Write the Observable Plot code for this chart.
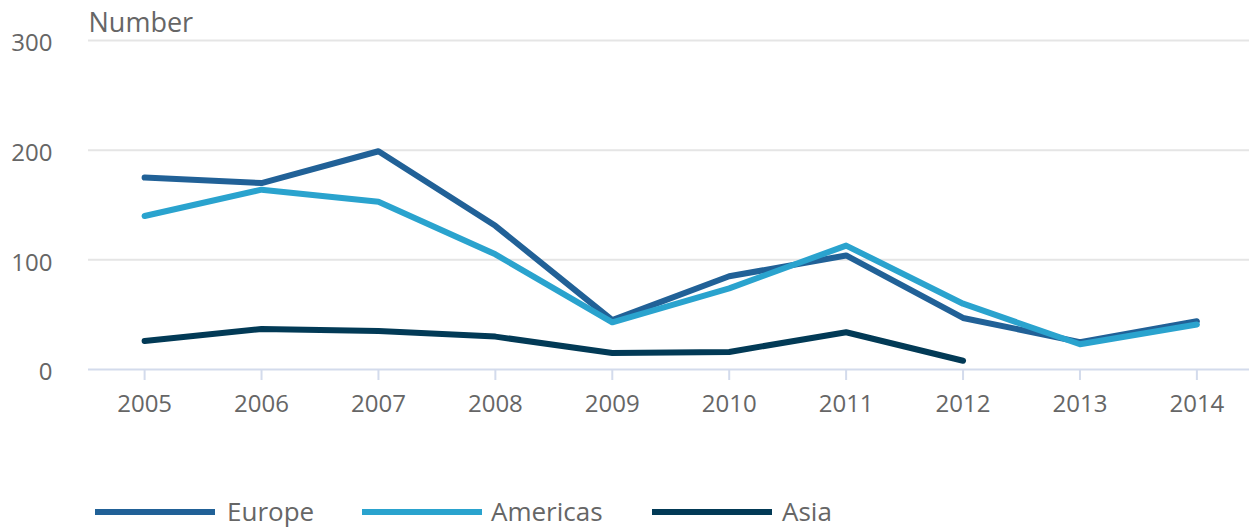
<!DOCTYPE html>
<html>
<head>
<meta charset="utf-8">
<script src="https://cdn.jsdelivr.net/npm/d3@7"></script>
<script src="https://cdn.jsdelivr.net/npm/@observablehq/plot@0.6"></script>
<style>
  html, body { margin: 0; padding: 0; background: #fff; overflow: hidden; }
  #wrap { position: relative; width: 1249px; height: 527px; font-family: "Open Sans", sans-serif; overflow: hidden; }
  #chart { position: absolute; left: 0; top: 0; }
  .sw { position: absolute; top: 509px; width: 120px; height: 6px; }
  .lbl { position: absolute; top: 498px; font-size: 26px; line-height: 26px; color: #666; white-space: nowrap; }
</style>
</head>
<body>
<div id="wrap">
  <div id="chart"></div>
</div>
<script>
const years = [2005, 2006, 2007, 2008, 2009, 2010, 2011, 2012, 2013, 2014];
const europe = [175, 170, 199, 131, 45, 85, 104, 47, 25, 44];
const americas = [140, 164, 153, 105, 43, 74, 113, 60, 23, 41];
const asia = [26, 37, 35, 30, 15, 16, 34, 8];
const seriesNames = ["Europe", "Americas", "Asia"];
const seriesColors = ["#216197", "#2aa3ce", "#023a56"];
const yTicks = [0, 100, 200, 300];
const yLabel = "Number";

const seriesValues = [europe, americas, asia];
const data = [];
seriesNames.forEach((name, i) => {
  seriesValues[i].forEach((v, j) => data.push({series: name, year: years[j], value: v}));
});

const chart = Plot.plot({
  width: 1249,
  height: 440,
  marginTop: 40,
  marginBottom: 71,
  marginLeft: 88,
  marginRight: 0,
  style: {fontFamily: "Open Sans, sans-serif", fontSize: "24px", color: "#666", background: "#fff", overflow: "visible"},
  x: {domain: [2004.52, 2014.45], label: null},
  y: {domain: [0, 300], label: null},
  color: {domain: seriesNames, range: seriesColors},
  marks: [
    Plot.gridY(yTicks.filter(d => d > 0), {stroke: "#e5e5e5", strokeOpacity: 1, strokeWidth: 2}),
    Plot.ruleY([0], {stroke: "#d3dbec", strokeWidth: 2}),
    Plot.axisX({ticks: years, tickFormat: d => String(d), tickSize: 11, tickPadding: 14, stroke: "#d3dbec", strokeWidth: 2, strokeOpacity: 1, fill: "#666", fontSize: 24, label: null}),
    Plot.axisY({ticks: yTicks, tickSize: 0, tickPadding: 36, fill: "#666", fontSize: 24, dy: 3, label: null}),
    Plot.lineY(data, {x: "year", y: "value", z: "series", stroke: "series", strokeWidth: 6, strokeLinecap: "round", strokeLinejoin: "round"}),
    Plot.text([yLabel], {frameAnchor: "top-left", text: d => d, lineAnchor: "middle", dy: -17, dx: 0, textAnchor: "start", fill: "#666", fontSize: 27})
  ]
});
document.getElementById("chart").appendChild(chart);

const wrap = document.getElementById("wrap");
const swLeft = [95, 362, 652];
const lblLeft = [227, 491, 782];
seriesNames.forEach((name, i) => {
  const sw = document.createElement("div");
  sw.className = "sw";
  sw.style.left = swLeft[i] + "px";
  sw.style.background = seriesColors[i];
  const lb = document.createElement("span");
  lb.className = "lbl";
  lb.style.left = lblLeft[i] + "px";
  lb.textContent = name;
  wrap.appendChild(sw);
  wrap.appendChild(lb);
});
</script>
</body>
</html>
